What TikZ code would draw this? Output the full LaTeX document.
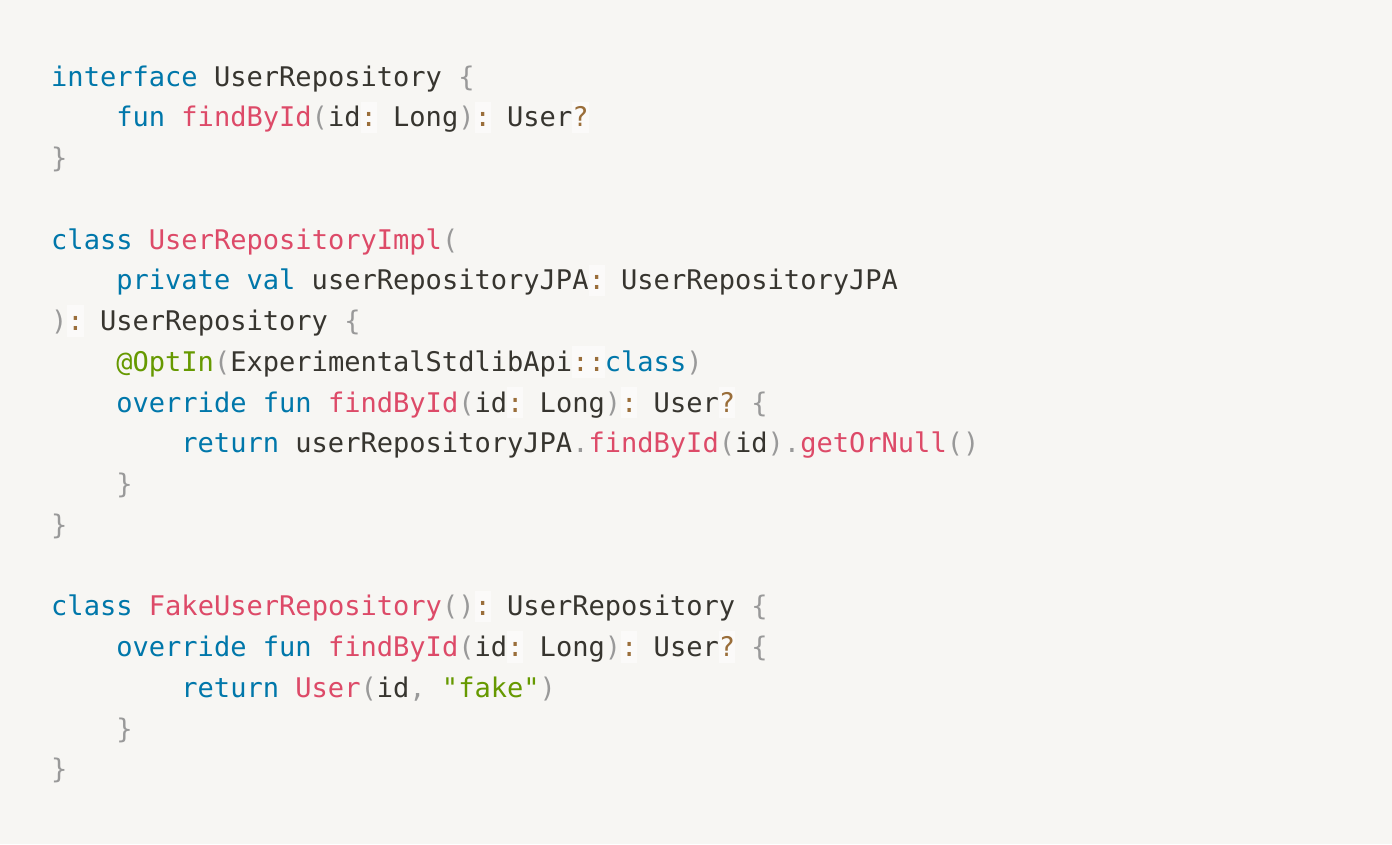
\documentclass[tikz,border=0pt]{standalone}
\usepackage{fontspec}
\newfontfamily\codefont{DejaVu Sans Mono}
\definecolor{bgc}{HTML}{F7F6F3}
\definecolor{txt}{HTML}{37352F}
\definecolor{kw}{HTML}{0077AA}
\definecolor{fnc}{HTML}{DD4A68}
\definecolor{puc}{HTML}{999999}
\definecolor{stc}{HTML}{669900}
\definecolor{opc}{HTML}{9A6E3A}
\definecolor{opbg}{HTML}{FBFAF9}
\newcommand\ckw[1]{\textcolor{kw}{#1}}
\newcommand\cfn[1]{\textcolor{fnc}{#1}}
\newcommand\cpu[1]{\textcolor{puc}{#1}}
\newcommand\cst[1]{\textcolor{stc}{#1}}
\newcommand\cop[1]{{\setlength{\fboxsep}{0pt}\colorbox{opbg}{\rule[-6.3pt]{0pt}{31.5pt}\textcolor{opc}{#1}}}}
\tikzset{
  codeline/.style={anchor=base west, inner sep=0pt, text=txt,
    font=\codefont\fontsize{27.05pt}{32pt}\selectfont\frenchspacing}
}
\begin{document}
\begin{tikzpicture}[x=1pt,y=-1pt]
\fill[bgc] (0,0) rectangle (1392,844);
\useasboundingbox (0,0) rectangle (1392,844);
\def\xa{51}
\def\xb{116.1}
\def\xc{181.2}
\node[codeline] (l1) at (\xa,86) {\ckw{interface} UserRepository \cpu{\{}};
\node[codeline] (l2) at (\xb,126.76) {\ckw{fun} \cfn{findById}\cpu{(}id\cop{:} Long\cpu{)}\cop{:} User\cop{?}};
\node[codeline] (l3) at (\xa,167.52) {\cpu{\}}};
\node[codeline] (l5) at (\xa,249.04) {\ckw{class} \cfn{UserRepositoryImpl}\cpu{(}};
\node[codeline] (l6) at (\xb,289.8) {\ckw{private} \ckw{val} userRepositoryJPA\cop{:} UserRepositoryJPA};
\node[codeline] (l7) at (\xa,330.56) {\cpu{)}\cop{:} UserRepository \cpu{\{}};
\node[codeline] (l8) at (\xb,371.32) {\cst{@OptIn}\cpu{(}ExperimentalStdlibApi\cop{::}\ckw{class}\cpu{)}};
\node[codeline] (l9) at (\xb,412.08) {\ckw{override} \ckw{fun} \cfn{findById}\cpu{(}id\cop{:} Long\cpu{)}\cop{:} User\cop{?} \cpu{\{}};
\node[codeline] (l10) at (\xc,452.84) {\ckw{return} userRepositoryJPA\cpu{.}\cfn{findById}\cpu{(}id\cpu{)}\cpu{.}\cfn{getOrNull}\cpu{()}};
\node[codeline] (l11) at (\xb,493.6) {\cpu{\}}};
\node[codeline] (l12) at (\xa,534.36) {\cpu{\}}};
\node[codeline] (l14) at (\xa,615.88) {\ckw{class} \cfn{FakeUserRepository}\cpu{()}\cop{:} UserRepository \cpu{\{}};
\node[codeline] (l15) at (\xb,656.64) {\ckw{override} \ckw{fun} \cfn{findById}\cpu{(}id\cop{:} Long\cpu{)}\cop{:} User\cop{?} \cpu{\{}};
\node[codeline] (l16) at (\xc,697.4) {\ckw{return} \cfn{User}\cpu{(}id\cpu{,} \cst{"fake"}\cpu{)}};
\node[codeline] (l17) at (\xb,738.16) {\cpu{\}}};
\node[codeline] (l18) at (\xa,778.92) {\cpu{\}}};
\end{tikzpicture}
\end{document}
